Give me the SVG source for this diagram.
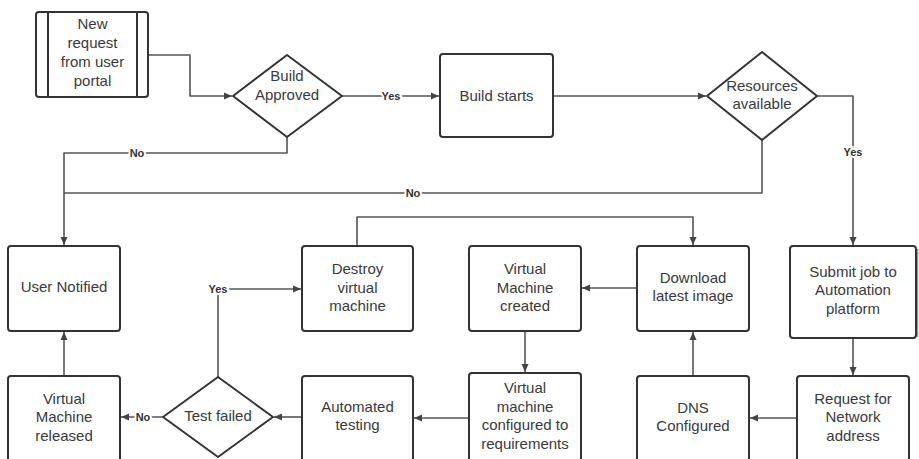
<svg xmlns="http://www.w3.org/2000/svg" width="919" height="459" viewBox="0 0 919 459">
  <style>
    .box { fill: #ffffff; stroke: #333333; stroke-width: 2; }
    .t { font-family: "Liberation Sans", Arial, sans-serif; font-size: 15px; fill: #3a3a3a; text-anchor: middle; }
    .wire { fill: none; stroke: #555555; stroke-width: 1.6; stroke-linejoin: round; }
    .lbl { font-family: "Liberation Sans", Arial, sans-serif; font-size: 11px; font-weight: bold; fill: #333333; text-anchor: middle; stroke: #ffffff; stroke-width: 4; paint-order: stroke; }
  </style>
  <defs>
    <marker id="arrow" markerUnits="userSpaceOnUse" markerWidth="10" markerHeight="10" refX="9" refY="5" orient="auto">
      <path d="M1,1.5 L9,5 L1,8.5 Z" fill="#444444"/>
    </marker>
  </defs>
  <rect width="919" height="459" fill="#ffffff"/>

  <g id="connectors">
    <path class="wire" d="M148,55 H190 V96 H232" marker-end="url(#arrow)"/>
    <path class="wire" d="M342,96 H439" marker-end="url(#arrow)"/>
    <path class="wire" d="M553,96 H706" marker-end="url(#arrow)"/>
    <path class="wire" d="M817,96 H853 V245" marker-end="url(#arrow)"/>
    <path class="wire" d="M287,137 V153 H64 V245" marker-end="url(#arrow)"/>
    <path class="wire" d="M762,140 V193 H64"/>
    <path class="wire" d="M853,338 V375" marker-end="url(#arrow)"/>
    <path class="wire" d="M797,418 H750" marker-end="url(#arrow)"/>
    <path class="wire" d="M693,376 V332" marker-end="url(#arrow)"/>
    <path class="wire" d="M637,288 H582" marker-end="url(#arrow)"/>
    <path class="wire" d="M525,331 V372" marker-end="url(#arrow)"/>
    <path class="wire" d="M469,418 H414" marker-end="url(#arrow)"/>
    <path class="wire" d="M302,417 H274" marker-end="url(#arrow)"/>
    <path class="wire" d="M163,417 H121" marker-end="url(#arrow)"/>
    <path class="wire" d="M64,376 V332" marker-end="url(#arrow)"/>
    <path class="wire" d="M218,377 V289 H301" marker-end="url(#arrow)"/>
    <path class="wire" d="M357,246 V217 H693 V245" marker-end="url(#arrow)"/>
    <text class="lbl" x="391" y="100">Yes</text>
    <text class="lbl" x="853" y="156">Yes</text>
    <text class="lbl" x="137" y="157">No</text>
    <text class="lbl" x="413" y="197">No</text>
    <text class="lbl" x="143" y="421">No</text>
    <text class="lbl" x="218" y="293">Yes</text>
  </g>

  <g id="new-request">
    <rect class="box" x="36" y="12" width="112" height="85" rx="3"/>
    <line x1="48" y1="12" x2="48" y2="97" stroke="#333333" stroke-width="2"/>
    <line x1="137" y1="12" x2="137" y2="97" stroke="#333333" stroke-width="2"/>
    <text class="t" x="92.5" y="29">New</text>
    <text class="t" x="92.5" y="48">request</text>
    <text class="t" x="92.5" y="67">from user</text>
    <text class="t" x="92.5" y="86">portal</text>
  </g>

  <g id="build-approved">
    <polygon class="box" points="287,55 342,96 287,137 233,96" stroke-linejoin="round"/>
    <text class="t" x="287" y="81">Build</text>
    <text class="t" x="287" y="100">Approved</text>
  </g>

  <g id="build-starts">
    <rect class="box" x="440" y="54" width="113" height="83" rx="3"/>
    <text class="t" x="496.5" y="101">Build starts</text>
  </g>

  <g id="resources-available">
    <polygon class="box" points="762,52 817,96 762,140 707,96" stroke-linejoin="round"/>
    <text class="t" x="762" y="91">Resources</text>
    <text class="t" x="762" y="109">available</text>
  </g>

  <g id="submit-job">
    <line x1="917.5" y1="249" x2="917.5" y2="337" stroke="#999999" stroke-width="1.5"/>
    <rect class="box" x="790" y="246" width="126" height="92" rx="3"/>
    <text class="t" x="853" y="277">Submit job to</text>
    <text class="t" x="853" y="295">Automation</text>
    <text class="t" x="853" y="314">platform</text>
  </g>

  <g id="request-network">
    <rect class="box" x="797" y="376" width="112" height="90" rx="3"/>
    <text class="t" x="853" y="404">Request for</text>
    <text class="t" x="853" y="422">Network</text>
    <text class="t" x="853" y="441">address</text>
  </g>

  <g id="dns-configured">
    <rect class="box" x="637" y="376" width="112" height="90" rx="3"/>
    <text class="t" x="693" y="413">DNS</text>
    <text class="t" x="693" y="431">Configured</text>
  </g>

  <g id="download-image">
    <rect class="box" x="637" y="246" width="112" height="85" rx="3"/>
    <text class="t" x="693" y="283">Download</text>
    <text class="t" x="693" y="301">latest image</text>
  </g>

  <g id="vm-created">
    <rect class="box" x="469" y="246" width="112" height="85" rx="3"/>
    <text class="t" x="525" y="274">Virtual</text>
    <text class="t" x="525" y="293">Machine</text>
    <text class="t" x="525" y="311">created</text>
  </g>

  <g id="vm-configured">
    <rect class="box" x="469" y="373" width="112" height="93" rx="3"/>
    <text class="t" x="525" y="393">Virtual</text>
    <text class="t" x="525" y="412">machine</text>
    <text class="t" x="525" y="430">configured to</text>
    <text class="t" x="525" y="449">requirements</text>
  </g>

  <g id="automated-testing">
    <rect class="box" x="302" y="376" width="111" height="90" rx="3"/>
    <text class="t" x="357.5" y="412">Automated</text>
    <text class="t" x="357.5" y="430">testing</text>
  </g>

  <g id="destroy-vm">
    <rect class="box" x="302" y="246" width="111" height="85" rx="3"/>
    <text class="t" x="357.5" y="274">Destroy</text>
    <text class="t" x="357.5" y="293">virtual</text>
    <text class="t" x="357.5" y="311">machine</text>
  </g>

  <g id="test-failed">
    <polygon class="box" points="218,377 273,417 218,457 163,417" stroke-linejoin="round"/>
    <text class="t" x="218" y="421">Test failed</text>
  </g>

  <g id="vm-released">
    <rect class="box" x="8" y="376" width="112" height="90" rx="3"/>
    <text class="t" x="64" y="404">Virtual</text>
    <text class="t" x="64" y="422">Machine</text>
    <text class="t" x="64" y="441">released</text>
  </g>

  <g id="user-notified">
    <rect class="box" x="8" y="246" width="112" height="85" rx="3"/>
    <text class="t" x="64" y="292">User Notified</text>
  </g>
</svg>
